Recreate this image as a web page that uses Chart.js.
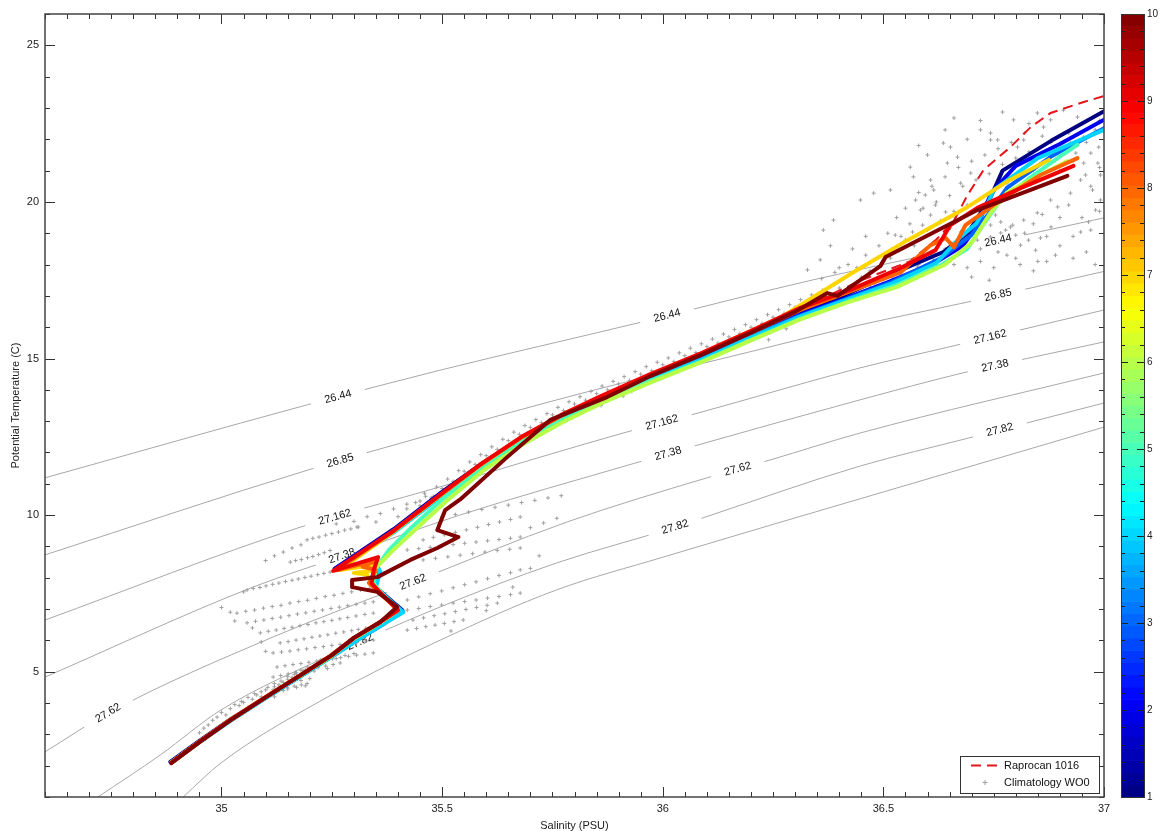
<!DOCTYPE html>
<html>
<head>
<meta charset="utf-8">
<script src="https://cdn.jsdelivr.net/npm/chart.js@4.4.1/dist/chart.umd.min.js"></script>
<style>
  html, body { margin: 0; padding: 0; background: #fff; }
  #wrap { width: 1161px; height: 831px; }
</style>
</head>
<body>
<div id="wrap"><canvas id="ts" width="1161" height="831"></canvas></div>
<script>
// ---- axis ticks ----
const salinityTicks = [35, 35.5, 36, 36.5, 37];
const tempTicks = [5, 10, 15, 20, 25];
const castTicks = [1, 2, 3, 4, 5, 6, 7, 8, 9, 10];

// ---- isopycnals (salinity, potential temperature) ----
const isoNames = ['26.44', '26.85', '27.162', '27.38', '27.62', '27.82', ''];
const iso2644 = [[34.60,11.19],[35.194,13.52],[35.496,14.63],[35.942,16.13],[36.34,17.51],[36.832,18.98],[37.0,19.49]];
const iso2685 = [[34.60,8.73],[35.196,11.44],[35.495,12.65],[35.819,13.90],[36.159,15.08],[36.447,16.07],[36.69,16.80],[37.0,17.78]];
const iso27162 = [[34.60,6.65],[35.173,9.59],[35.495,10.90],[35.91,12.62],[36.08,13.26],[36.447,14.70],[36.658,15.40],[37.0,16.55]];
const iso2738 = [[34.60,4.83],[35.071,7.70],[35.273,8.69],[35.54,10.0],[35.937,11.66],[36.08,12.24],[36.447,13.68],[36.68,14.54],[37.0,15.53]];
const iso2762 = [[34.60,2.44],[34.743,3.68],[35.117,6.11],[35.434,7.86],[35.783,9.78],[36.10,11.19],[36.243,11.76],[36.447,12.62],[37.0,14.54]];
const iso2782 = [[34.72,1.0],[34.861,2.34],[34.999,3.78],[35.253,5.57],[35.496,7.07],[35.759,8.47],[36.029,9.62],[36.097,9.94],[36.448,11.57],[36.693,12.46],[37.0,13.58]];
const iso2795 = [[34.913,1.0],[34.999,2.09],[35.253,4.29],[35.496,6.01],[35.759,7.61],[36.001,8.66],[36.50,10.74],[37.0,12.81]];
const isoLabelSal = [
  [35.264, 36.01, 36.76],
  [35.269, 36.76],
  [35.257, 35.998, 36.742],
  [35.273, 36.012, 36.753],
  [34.743, 35.434, 36.17],
  [35.314, 36.028, 36.764],
  []
];

// ---- climatology points ----
const climDeep = [[35.00,3.70],[35.02,3.82],[35.04,3.92],[35.05,4.02],[35.07,4.12],[35.08,4.26],[35.09,4.36],[35.10,4.42],[35.12,4.52],[35.13,4.58],[35.14,4.66],[35.15,4.76],[35.16,4.82],[35.17,4.96],[35.19,5.06],[35.20,5.12],[35.22,5.26],[35.23,5.32],[35.06,3.86],[35.11,4.30],[35.18,4.72],[35.21,5.02],[35.26,5.42],[35.28,5.52],[35.30,5.58],[35.17,4.50],[35.19,4.55],[35.14,4.40],[34.97,3.30],[34.98,3.45],
  [35.03,3.95],[35.045,4.05],[35.06,4.18],[35.075,4.30],[35.09,4.20],[35.105,4.50],[35.12,4.62],[35.135,4.70],[35.15,4.85],[35.165,4.92],[35.18,5.05],[35.195,5.15],[35.21,5.20],[35.225,5.38],[35.24,5.45],[34.99,3.55],[35.01,3.62],[34.96,3.20],[34.95,3.05],[35.12,4.20],[35.15,4.45],[35.20,4.78],[35.24,5.10]];
const climCloud = [
  [35.156,8.50],[35.168,8.55],[35.181,8.58],[35.195,8.64],[35.207,8.68],[35.22,8.74],[35.233,8.80],[35.246,8.87],
  [35.194,9.21],[35.207,9.26],[35.221,9.30],[35.236,9.36],[35.25,9.41],[35.265,9.46],[35.279,9.52],[35.293,9.56],[35.307,9.62],
  [35.058,7.61],[35.072,7.66],[35.087,7.69],[35.101,7.74],[35.116,7.79],[35.13,7.83],[35.145,7.88],[35.16,7.92],[35.174,7.96],[35.189,8.01],[35.203,8.05],[35.218,8.10],[35.232,8.14],[35.246,8.18],
  [35.035,6.87],[35.055,6.93],[35.075,6.97],[35.095,7.03],[35.115,7.08],[35.135,7.12],[35.155,7.19],[35.175,7.24],[35.195,7.28],[35.215,7.34],[35.235,7.40],[35.255,7.44],[35.275,7.50],[35.295,7.55],[35.315,7.61],[35.335,7.66],
  [35.058,6.56],[35.077,6.61],[35.096,6.65],[35.115,6.70],[35.134,6.74],[35.153,6.79],[35.172,6.84],[35.191,6.88],[35.21,6.93],[35.229,6.97],[35.248,7.02],[35.267,7.06],[35.286,7.11],[35.305,7.15],[35.325,7.19],[35.344,7.23],
  [35.088,6.24],[35.106,6.29],[35.124,6.33],[35.142,6.38],[35.16,6.42],[35.178,6.47],[35.196,6.51],[35.214,6.56],[35.232,6.60],[35.25,6.64],[35.268,6.69],[35.286,6.73],[35.305,6.78],[35.325,6.83],[35.344,6.87],
  [35.133,5.92],[35.151,5.96],[35.169,6.01],[35.187,6.05],[35.205,6.10],[35.223,6.14],[35.241,6.18],[35.259,6.23],[35.277,6.27],[35.295,6.31],[35.31,6.35],[35.327,6.39],[35.344,6.43],
  [35.117,5.60],[35.136,5.63],[35.155,5.66],[35.174,5.70],[35.193,5.73],[35.212,5.77],[35.231,5.80],[35.25,5.84],[35.269,5.87],[35.288,5.91],[35.307,5.94],[35.326,5.98],[35.344,6.01],
  [35.126,5.15],[35.144,5.19],[35.162,5.23],[35.18,5.26],[35.198,5.30],[35.216,5.34],[35.234,5.38],[35.252,5.41],[35.27,5.45],[35.288,5.49],[35.306,5.53],[35.325,5.56],[35.344,5.60],
  [35.117,4.83],[35.134,4.88],[35.151,4.93],[35.168,4.98],[35.185,5.03],[35.202,5.08],[35.219,5.13],[35.236,5.18],[35.253,5.23],[35.269,5.28],
  [35.117,4.42],[35.133,4.46],[35.149,4.50],[35.165,4.54],[35.181,4.58],[35.194,4.62],
  [35.16,8.95],[35.18,9.05],[35.14,8.82],[35.12,8.70],[35.10,8.55],[35.30,9.80],[35.33,9.95],[35.36,10.05],[35.39,10.20],[35.42,10.35],[35.45,10.45],[35.48,10.60],[35.26,9.72],[35.31,9.62],[35.35,9.78],[35.40,9.95],[35.44,10.10],
  [35.02,6.90],[35.03,6.62],[35.00,7.05],[35.05,7.55],[35.07,6.40],[35.09,5.95],[35.10,5.65],
  [35.457,9.21],[35.48,9.29],[35.505,9.37],[35.53,9.45],[35.555,9.53],[35.58,9.61],[35.605,9.70],[35.63,9.78],[35.655,9.86],[35.677,9.94],
  [35.421,8.89],[35.447,8.93],[35.473,8.97],[35.499,9.01],[35.525,9.06],[35.551,9.10],[35.577,9.14],[35.603,9.18],[35.629,9.22],[35.655,9.26],[35.677,9.30],
  [35.457,8.57],[35.485,8.62],[35.513,8.67],[35.541,8.72],[35.569,8.77],[35.597,8.82],[35.625,8.87],[35.653,8.91],[35.677,8.95],
  [35.421,7.29],[35.447,7.39],[35.473,7.49],[35.499,7.58],[35.525,7.68],[35.551,7.78],[35.577,7.87],[35.603,7.97],[35.629,8.07],[35.655,8.16],[35.677,8.25],
  [35.421,6.97],[35.447,7.02],[35.473,7.08],[35.499,7.13],[35.525,7.19],[35.551,7.24],[35.577,7.29],[35.603,7.35],[35.629,7.40],[35.655,7.46],[35.677,7.51],
  [35.434,6.65],[35.458,6.72],[35.482,6.79],[35.506,6.85],[35.53,6.92],[35.554,6.99],[35.578,7.05],[35.602,7.12],[35.625,7.19],
  [35.421,6.33],[35.442,6.38],[35.463,6.44],[35.484,6.49],[35.505,6.54],[35.527,6.60],[35.548,6.65],
  [35.50,9.95],[35.53,10.02],[35.56,10.10],[35.59,10.18],[35.62,10.25],[35.65,10.32],[35.68,10.40],[35.71,10.47],[35.74,10.55],[35.77,10.62],
  [35.70,9.60],[35.73,9.75],[35.76,9.90],[35.72,8.70],[35.70,8.30],[35.66,7.70],[35.60,6.95],[35.52,6.30]
];
const climThermo = [
  [35.45,10.30],[35.475,10.55],[35.50,10.85],[35.525,11.08],[35.55,11.40],[35.575,11.62],[35.60,11.90],[35.625,12.10],[35.65,12.38],[35.675,12.58],[35.70,12.80],[35.725,12.95],[35.75,13.20],[35.775,13.34],[35.80,13.55],[35.825,13.67],[35.85,13.88],[35.875,14.00],[35.90,14.19],[35.925,14.30],[35.95,14.50],[35.975,14.61],[36.00,14.80],[36.025,14.90],[36.05,15.09],[36.075,15.19],[36.10,15.38],[36.125,15.49],[36.15,15.69],[36.175,15.80],[36.20,16.00],[36.225,16.12],[36.25,16.32],[36.275,16.44],[36.30,16.64],[36.325,16.75],[36.35,16.95],[36.375,17.05],[36.40,17.25],
  [35.4625,10.60],[35.4875,10.90],[35.5125,11.15],[35.5375,11.42],[35.5625,11.70],[35.5875,11.93],[35.6125,12.18],[35.6375,12.42],[35.6625,12.65],[35.6875,12.86],[35.7125,13.05],[35.7375,13.24],[35.7625,13.44],[35.7875,13.62],[35.8125,13.78],[35.8375,13.95],[35.8625,14.12],[35.8875,14.27],[35.9125,14.42],[35.9375,14.58],[35.9625,14.74],[35.9875,14.88],[36.0125,15.02],[36.0375,15.18],[36.0625,15.33],[36.0875,15.47],[36.1125,15.62],[36.1375,15.78],[36.1625,15.93],[36.1875,16.08],[36.2125,16.24],[36.2375,16.40],[36.2625,16.56],[36.2875,16.72],[36.3125,16.88],[36.3375,17.03],[36.3625,17.18],[36.3875,17.35],
  [35.55,11.00],[35.62,11.75],[35.70,12.42],[35.78,13.00],[35.86,13.50],[35.93,13.95],[36.02,14.52],[36.12,15.10],[36.22,15.70],[36.30,16.20],[36.36,16.55],
  [35.42,10.20],[35.44,10.40],[35.46,10.70],[35.53,11.00],[35.66,12.05],[35.91,13.80],[36.24,15.60],[36.28,15.95],[36.35,16.45]
];
const climSurface = [[36.478,20.28],[36.516,20.38],[36.561,21.11],[36.568,20.80],[36.607,20.70],[36.614,20.38],[36.636,21.88],[36.652,21.75],[36.645,21.24],[36.668,21.43],[36.675,20.60],[36.698,20.92],[36.720,22.30],[36.743,22.20],[36.743,21.98],[36.759,21.98],[36.795,22.62],[36.804,21.75],[36.818,21.98],[36.849,22.84],[36.863,22.39],[36.879,22.62],[36.908,22.93],[36.940,22.71],[36.954,22.07],[36.970,21.56],[36.986,21.24],[36.954,21.24],[36.947,20.70],[36.924,20.28],[36.895,19.84],[36.879,20.06],[36.849,19.65],[36.818,19.42],[36.788,19.20],[36.766,19.01],[36.743,18.88],[36.713,18.78],[36.691,18.56],[36.652,18.37],[36.614,18.15],[36.577,17.92],[36.539,17.73],[36.500,17.51],[36.471,17.28],
  [36.573,20.06],[36.584,19.74],[36.595,20.22],[36.607,19.58],[36.618,19.90],[36.630,19.36],[36.641,19.68],[36.652,19.17],[36.663,19.49],[36.675,19.04],[36.589,19.26],[36.566,19.04],[36.550,18.78],[36.534,18.46],[36.516,18.21],[36.527,18.94],
  [36.732,19.74],[36.754,19.58],[36.766,19.36],[36.777,19.10],[36.793,19.26],[36.800,18.94],[36.743,19.26],[36.811,18.62],[36.829,18.78],[36.845,18.46],[36.856,18.85],
  [36.924,21.88],[36.936,21.56],[36.958,20.86],[36.974,20.38],[36.992,20.06],[36.981,19.74],[36.965,19.36],[36.947,19.04],[36.988,21.75],[36.992,20.86],
  [36.66,22.68],[36.77,22.87],
  [36.328,17.83],[36.357,18.15],[36.364,19.10],[36.387,19.42],[36.448,20.06],[36.40,17.9],[36.43,18.5],[36.46,18.9],[36.38,18.6],
  [36.44,17.9],[36.46,18.3],[36.47,17.8],[36.49,18.6],[36.50,18.1],[36.51,19.0],[36.52,18.5],[36.53,19.5],[36.54,18.9],[36.55,19.8],[36.56,19.3],[36.57,18.6],[36.58,20.3],[36.59,19.8],[36.60,19.1],[36.61,20.5],[36.62,20.0],[36.63,19.4],[36.64,20.8],[36.65,20.2],[36.66,19.7],[36.67,21.1],[36.68,20.5],[36.69,19.9],[36.70,21.3],[36.71,20.7],[36.72,20.1],[36.73,21.5],[36.74,20.9],[36.75,20.4],[36.76,21.7],[36.77,21.2],[36.78,20.6],[36.79,21.9],[36.80,21.4],[36.81,20.9],[36.82,22.2],[36.83,21.6],[36.84,21.0],
  [36.82,19.0],[36.84,19.3],[36.86,19.6],[36.88,19.2],[36.90,19.5],[36.92,19.9],[36.87,18.9],[36.90,18.6],[36.93,18.9],[36.95,19.5],[36.97,19.1],[36.99,19.7],[36.96,18.4],[36.98,18.0],[36.93,18.2],[36.89,18.3],[36.85,18.1],[36.80,18.2],[36.76,18.4],[36.72,18.5],
  [36.90,21.0],[36.93,21.3],[36.96,21.9],[36.98,22.3],[36.99,22.6],[36.95,22.5],[36.92,22.2],[36.88,21.9],[36.86,22.1],[36.83,22.5],[36.97,20.5],[36.99,21.1],
  [36.64,22.3],[36.69,22.0],[36.72,22.6],[36.60,21.5],[36.58,21.8],
  [36.36,17.55],[36.39,17.75],[36.42,18.0],[36.45,17.6],[36.48,17.4],[36.52,17.6],[36.55,17.9],[36.58,18.0],[36.61,18.3],[36.64,18.5],
  [36.66,18.0],[36.69,17.9],[36.72,18.1],[36.75,17.9],[36.78,18.3],[36.81,18.0],[36.84,17.8],[36.87,18.1],[36.70,17.6],[36.74,17.5]];

// ---- reference cast ----
const raprocan = [[34.886,2.09],[35.02,3.46],[35.18,4.90],[35.30,6.08],[35.40,6.97],[35.34,7.83],[35.35,8.5],[35.26,8.25],[35.496,10.64],[35.677,12.46],[35.859,13.77],[36.085,15.14],[36.312,16.58],[36.45,17.5],[36.56,18.1],[36.62,18.8],[36.66,19.4],[36.69,20.2],[36.727,21.02],[36.788,21.75],[36.834,22.39],[36.879,22.84],[36.954,23.19],[37.0,23.38]];

// ---- casts 1..10 ----
const cast1 = [[34.884,2.12],[34.95,2.79],[35.02,3.48],[35.10,4.18],[35.18,4.88],[35.25,5.50],[35.31,6.05],[35.37,6.57],[35.41,6.96],[35.37,7.45],[35.34,7.80],[35.352,8.30],[35.345,8.52],[35.258,8.30],[35.39,9.55],[35.50,10.74],[35.59,11.64],[35.68,12.46],[35.77,13.14],[35.86,13.74],[35.972,14.42],[36.085,15.06],[36.199,15.76],[36.31,16.45],[36.40,16.95],[36.493,17.55],[36.636,18.40],[36.691,19.0],[36.743,20.15],[36.77,21.0],[36.88,21.95],[37.02,23.05]];
const cast2 = [[34.886,2.10],[34.95,2.76],[35.02,3.45],[35.10,4.17],[35.18,4.87],[35.25,5.49],[35.31,6.04],[35.37,6.55],[35.405,6.93],[35.365,7.47],[35.335,7.84],[35.35,8.28],[35.34,8.50],[35.256,8.28],[35.388,9.50],[35.498,10.70],[35.588,11.60],[35.678,12.43],[35.77,13.12],[35.86,13.72],[35.972,14.40],[36.085,15.03],[36.199,15.73],[36.31,16.40],[36.41,16.90],[36.50,17.38],[36.62,18.08],[36.68,18.60],[36.715,19.30],[36.745,20.30],[36.80,21.15],[36.90,21.85],[37.02,22.78]];
const cast3 = [[34.887,2.11],[34.951,2.77],[35.021,3.46],[35.10,4.17],[35.18,4.87],[35.25,5.49],[35.31,6.04],[35.37,6.56],[35.41,6.92],[35.37,7.42],[35.34,7.78],[35.355,8.22],[35.345,8.46],[35.26,8.26],[35.387,9.47],[35.497,10.66],[35.587,11.57],[35.677,12.40],[35.768,13.10],[35.86,13.70],[35.972,14.38],[36.085,15.0],[36.199,15.70],[36.31,16.36],[36.42,16.92],[36.52,17.45],[36.63,18.20],[36.70,18.95],[36.74,19.65],[36.78,20.45],[36.88,21.45],[37.02,22.50]];
const cast4 = [[34.888,2.11],[34.952,2.77],[35.022,3.45],[35.10,4.16],[35.18,4.86],[35.25,5.48],[35.31,6.03],[35.37,6.55],[35.412,6.90],[35.38,7.30],[35.35,7.70],[35.36,8.20],[35.35,8.45],[35.265,8.30],[35.39,9.44],[35.50,10.62],[35.59,11.54],[35.68,12.38],[35.77,13.08],[35.86,13.68],[35.975,14.36],[36.09,14.98],[36.20,15.68],[36.31,16.34],[36.42,16.90],[36.52,17.40],[36.62,18.05],[36.675,18.88],[36.71,19.30],[36.73,19.75],[36.75,20.38],[36.85,21.40],[37.0,22.30]];
const cast5 = [[34.887,2.10],[34.95,2.75],[35.02,3.46],[35.10,4.18],[35.18,4.89],[35.25,5.51],[35.30,6.06],[35.36,6.57],[35.40,6.95],[35.37,7.40],[35.345,7.80],[35.35,8.30],[35.38,8.90],[35.43,9.60],[35.50,10.50],[35.59,11.48],[35.68,12.33],[35.77,13.02],[35.86,13.62],[35.975,14.30],[36.09,14.92],[36.20,15.60],[36.31,16.26],[36.42,16.82],[36.53,17.34],[36.63,17.98],[36.69,18.50],[36.72,19.15],[36.76,19.95],[36.83,20.75],[36.90,21.45],[36.94,21.82]];
const cast6 = [[34.887,2.11],[34.951,2.77],[35.021,3.47],[35.10,4.19],[35.18,4.90],[35.25,5.52],[35.30,6.07],[35.36,6.58],[35.40,6.97],[35.365,7.45],[35.34,7.85],[35.352,8.35],[35.387,8.85],[35.44,9.55],[35.51,10.45],[35.595,11.44],[35.685,12.28],[35.775,12.98],[35.865,13.60],[35.98,14.28],[36.09,14.90],[36.20,15.58],[36.31,16.24],[36.42,16.80],[36.53,17.28],[36.64,18.00],[36.70,18.70],[36.74,19.60],[36.78,20.30],[36.85,20.82],[36.917,21.30]];
const cast7 = [[34.886,2.10],[34.95,2.76],[35.02,3.46],[35.10,4.19],[35.18,4.90],[35.25,5.52],[35.30,6.07],[35.36,6.58],[35.40,6.98],[35.36,7.50],[35.34,7.85],[35.33,8.10],[35.30,8.15],[35.34,8.22],[35.35,8.42],[35.268,8.25],[35.385,9.42],[35.495,10.62],[35.585,11.58],[35.675,12.44],[35.765,13.14],[35.855,13.75],[35.97,14.45],[36.08,15.10],[36.19,15.82],[36.267,16.30],[36.319,16.77],[36.433,17.76],[36.555,18.78],[36.691,19.84],[36.78,20.65],[36.875,21.34]];
const cast8 = [[34.886,2.09],[34.95,2.76],[35.02,3.46],[35.10,4.19],[35.18,4.90],[35.25,5.53],[35.30,6.08],[35.36,6.59],[35.40,6.97],[35.36,7.50],[35.335,7.82],[35.35,8.25],[35.32,8.35],[35.35,8.55],[35.26,8.24],[35.385,9.44],[35.496,10.64],[35.586,11.60],[35.677,12.46],[35.768,13.16],[35.859,13.77],[35.972,14.46],[36.085,15.12],[36.199,15.82],[36.312,16.55],[36.42,17.12],[36.54,17.76],[36.607,18.62],[36.641,18.85],[36.66,18.55],[36.686,19.26],[36.766,20.06],[36.856,20.86],[36.94,21.40]];
const cast9 = [[34.886,2.09],[34.95,2.76],[35.02,3.46],[35.10,4.19],[35.18,4.90],[35.25,5.53],[35.30,6.08],[35.36,6.59],[35.40,6.97],[35.36,7.52],[35.34,7.83],[35.345,8.25],[35.355,8.66],[35.253,8.22],[35.39,9.50],[35.50,10.70],[35.59,11.65],[35.68,12.50],[35.77,13.20],[35.86,13.80],[35.972,14.50],[36.085,15.16],[36.199,15.88],[36.312,16.62],[36.425,17.19],[36.539,17.89],[36.618,18.46],[36.652,19.26],[36.713,19.81],[36.811,20.44],[36.931,21.15]];
const cast10 = [[34.886,2.08],[34.95,2.75],[35.02,3.45],[35.10,4.18],[35.18,4.90],[35.25,5.53],[35.30,6.08],[35.36,6.59],[35.398,7.07],[35.353,7.55],[35.296,7.70],[35.296,7.93],[35.353,8.02],[35.428,8.57],[35.489,8.95],[35.537,9.30],[35.489,9.52],[35.507,10.16],[35.541,10.50],[35.648,11.86],[35.745,13.04],[35.874,13.77],[35.972,14.44],[36.085,15.10],[36.199,15.82],[36.30,16.49],[36.373,17.09],[36.396,17.00],[36.493,17.95],[36.505,18.24],[36.713,19.74],[36.917,20.83]];
const casts = [cast1, cast2, cast3, cast4, cast5, cast6, cast7, cast8, cast9, cast10];

const FONT = 'Liberation Sans, Arial, sans-serif';

function jet(t) {
  const c = v => Math.round(255 * Math.max(0, Math.min(1, v)));
  return 'rgb(' + c(1.5 - Math.abs(4 * t - 3)) + ',' + c(1.5 - Math.abs(4 * t - 2)) + ',' + c(1.5 - Math.abs(4 * t - 1)) + ')';
}
const toPts = a => a.map(p => ({ x: p[0], y: p[1] }));

const isoSets = [iso2644, iso2685, iso27162, iso2738, iso2762, iso2782, iso2795];
const datasets = [];
isoSets.forEach((pts, i) => datasets.push({
  label: 'sigma ' + isoNames[i],
  data: toPts(pts),
  showLine: true,
  borderColor: '#a8a8a8',
  borderWidth: 1,
  pointRadius: 0,
  cubicInterpolationMode: 'monotone',
  order: 100
}));
datasets.push({
  label: 'Climatology WO0',
  data: toPts(climDeep.concat(climCloud, climThermo, climSurface)),
  showLine: false,
  pointStyle: 'cross',
  pointRadius: 2,
  borderColor: '#a0a0a0',
  borderWidth: 1,
  order: 50
});
datasets.push({
  label: 'Raprocan 1016',
  data: toPts(raprocan),
  showLine: true,
  borderColor: '#e3161c',
  borderWidth: 2,
  borderDash: [10, 6],
  pointRadius: 0,
  order: 30
});
casts.forEach((c, i) => datasets.push({
  label: 'Cast ' + castTicks[i],
  data: toPts(c),
  showLine: true,
  borderColor: jet((castTicks[i] - 1) / 9),
  borderWidth: 4,
  borderJoinStyle: 'round',
  borderCapStyle: 'round',
  pointRadius: 0,
  order: 11 - castTicks[i]
}));

// density labels sit on the lines, drawn just before the dots
function onLine(chart, pts, s) {
  const xs = chart.scales.x, ys = chart.scales.y;
  const px = pts.map(p => [xs.getPixelForValue(p[0]), ys.getPixelForValue(p[1])]);
  const x = xs.getPixelForValue(s);
  for (let i = 0; i < px.length - 1; i++) {
    if (x >= px[i][0] && x <= px[i + 1][0]) {
      const f = (x - px[i][0]) / (px[i + 1][0] - px[i][0]);
      return {
        x: x,
        y: px[i][1] + f * (px[i + 1][1] - px[i][1]),
        a: Math.atan2(px[i + 1][1] - px[i][1], px[i + 1][0] - px[i][0])
      };
    }
  }
  return null;
}

const isoLabels = {
  id: 'isoLabels',
  beforeDatasetDraw(chart, args) {
    if (chart.data.datasets[args.index].label !== 'Climatology WO0') return;
    const ctx = chart.ctx;
    ctx.save();
    ctx.font = '11px ' + FONT;
    ctx.textAlign = 'center';
    ctx.textBaseline = 'middle';
    isoSets.forEach((pts, i) => {
      isoLabelSal[i].forEach(s => {
        const p = onLine(chart, pts, s);
        if (!p) return;
        const w = ctx.measureText(isoNames[i]).width;
        ctx.save();
        ctx.translate(p.x, p.y);
        ctx.rotate(p.a);
        ctx.fillStyle = '#fff';
        ctx.fillRect(-w / 2 - 14, -4, w + 28, 8);
        ctx.fillStyle = '#111';
        ctx.fillText(isoNames[i], 0, 0);
        ctx.restore();
      });
    });
    ctx.restore();
  }
};

const frame = {
  id: 'frame',
  afterDatasetsDraw(chart) {
    const { ctx, chartArea: a, scales: { x, y } } = chart;
    ctx.save();
    ctx.strokeStyle = '#333';
    ctx.lineWidth = 1;
    const seg = (x1, y1, x2, y2) => { ctx.beginPath(); ctx.moveTo(x1, y1); ctx.lineTo(x2, y2); ctx.stroke(); };
    for (let i = 0; i <= 48; i++) {
      const v = 34.6 + i * 0.05;
      const major = Math.abs(v * 2 - Math.round(v * 2)) < 1e-6;
      const len = major ? 10 : 5;
      const px = Math.round(x.getPixelForValue(v)) + 0.5;
      seg(px, a.bottom, px, a.bottom - len);
      seg(px, a.top, px, a.top + len);
    }
    for (let t = 1; t <= 26; t++) {
      const len = t % 5 === 0 ? 10 : 5;
      const py = Math.round(y.getPixelForValue(t)) + 0.5;
      seg(a.left, py, a.left + len, py);
      seg(a.right, py, a.right - len, py);
    }
    ctx.strokeStyle = '#444';
    ctx.lineWidth = 1.5;
    ctx.strokeRect(a.left, a.top, a.right - a.left, a.bottom - a.top);
    ctx.restore();
  }
};

const colorbar = {
  id: 'colorbar',
  afterDraw(chart) {
    const ctx = chart.ctx;
    const cb = chart.scales.cb;
    const x0 = cb.left + 17, w = 23;
    ctx.save();
    for (let i = 0; i < 64; i++) {
      const yA = cb.getPixelForValue(1 + 9 * (i + 1) / 64);
      const yB = cb.getPixelForValue(1 + 9 * i / 64);
      ctx.fillStyle = jet((i + 0.5) / 64);
      ctx.fillRect(x0, yA, w, yB - yA + 0.6);
    }
    ctx.strokeStyle = '#222';
    ctx.lineWidth = 1;
    for (let k = 0; k <= 45; k++) {
      const v = 1 + k * 0.2;
      const py = Math.round(cb.getPixelForValue(v)) + 0.5;
      const len = k % 5 === 0 ? 7 : 4;
      ctx.beginPath();
      ctx.moveTo(x0, py); ctx.lineTo(x0 + len, py);
      ctx.moveTo(x0 + w - len, py); ctx.lineTo(x0 + w, py);
      ctx.stroke();
    }
    ctx.strokeStyle = '#333';
    ctx.strokeRect(x0 + 0.5, cb.top + 0.5, w, cb.bottom - cb.top);
    ctx.restore();
  }
};

const boxLegend = {
  id: 'boxLegend',
  afterDraw(chart) {
    const ctx = chart.ctx;
    const a = chart.chartArea;
    const ds = chart.data.datasets;
    const rap = ds.find(d => d.label === 'Raprocan 1016');
    const clim = ds.find(d => d.label === 'Climatology WO0');
    const bw = 139, bh = 37;
    const bx = a.right - 5 - bw, by = a.bottom - 4 - bh;
    ctx.save();
    ctx.fillStyle = '#fff';
    ctx.fillRect(bx, by, bw, bh);
    ctx.strokeStyle = '#333';
    ctx.lineWidth = 1;
    ctx.strokeRect(bx + 0.5, by + 0.5, bw, bh);
    ctx.strokeStyle = rap.borderColor;
    ctx.lineWidth = rap.borderWidth;
    ctx.setLineDash(rap.borderDash);
    ctx.beginPath(); ctx.moveTo(bx + 11, by + 9.5); ctx.lineTo(bx + 38, by + 9.5); ctx.stroke();
    ctx.setLineDash([]);
    ctx.strokeStyle = clim.borderColor;
    ctx.lineWidth = 1;
    ctx.beginPath();
    ctx.moveTo(bx + 22.5, by + 26.5); ctx.lineTo(bx + 27.5, by + 26.5);
    ctx.moveTo(bx + 25, by + 24); ctx.lineTo(bx + 25, by + 29);
    ctx.stroke();
    ctx.fillStyle = '#111';
    ctx.font = '11px ' + FONT;
    ctx.textBaseline = 'middle';
    ctx.textAlign = 'left';
    ctx.fillText(rap.label, bx + 44, by + 9.5);
    ctx.fillText(clim.label, bx + 44, by + 26.5);
    ctx.restore();
  }
};

const tickFont = { family: FONT, size: 11 };

new Chart(document.getElementById('ts'), {
  type: 'scatter',
  data: { datasets: datasets },
  options: {
    responsive: false,
    animation: false,
    events: [],
    devicePixelRatio: 1,
    layout: { padding: { top: 14, left: 0, right: 0, bottom: 0 } },
    plugins: { legend: { display: false }, tooltip: { enabled: false } },
    scales: {
      x: {
        type: 'linear', min: 34.6, max: 37,
        afterBuildTicks: s => { s.ticks = salinityTicks.map(v => ({ value: v })); },
        afterFit: s => { s.height = 34; },
        grid: { display: false, drawTicks: false },
        border: { display: false },
        ticks: { padding: 5, color: '#222', font: tickFont, maxRotation: 0, autoSkip: false, callback: v => String(v) },
        title: { display: true, text: 'Salinity (PSU)', color: '#222', font: { family: FONT, size: 11, lineHeight: 1 }, padding: { top: 0, bottom: 0 } }
      },
      y: {
        type: 'linear', min: 1, max: 26,
        afterBuildTicks: s => { s.ticks = tempTicks.map(v => ({ value: v })); },
        afterFit: s => { s.width = 45; },
        grid: { display: false, drawTicks: false },
        border: { display: false },
        ticks: { padding: 6, color: '#222', font: tickFont, callback: v => String(v) },
        title: { display: true, text: 'Potential Temperature (C)', color: '#222', font: { family: FONT, size: 11, lineHeight: 1 }, padding: { top: 10, bottom: 0 } }
      },
      cb: {
        type: 'linear', position: 'right', min: 1, max: 10,
        afterBuildTicks: s => { s.ticks = castTicks.map(v => ({ value: v })); },
        afterFit: s => { s.width = 57; },
        grid: { display: false, drawTicks: true, tickLength: 42 },
        border: { display: false },
        ticks: { padding: 1, color: '#222', font: { family: FONT, size: 10 }, callback: v => String(v) }
      }
    }
  },
  plugins: [isoLabels, frame, colorbar, boxLegend]
});
</script>
</body>
</html>
